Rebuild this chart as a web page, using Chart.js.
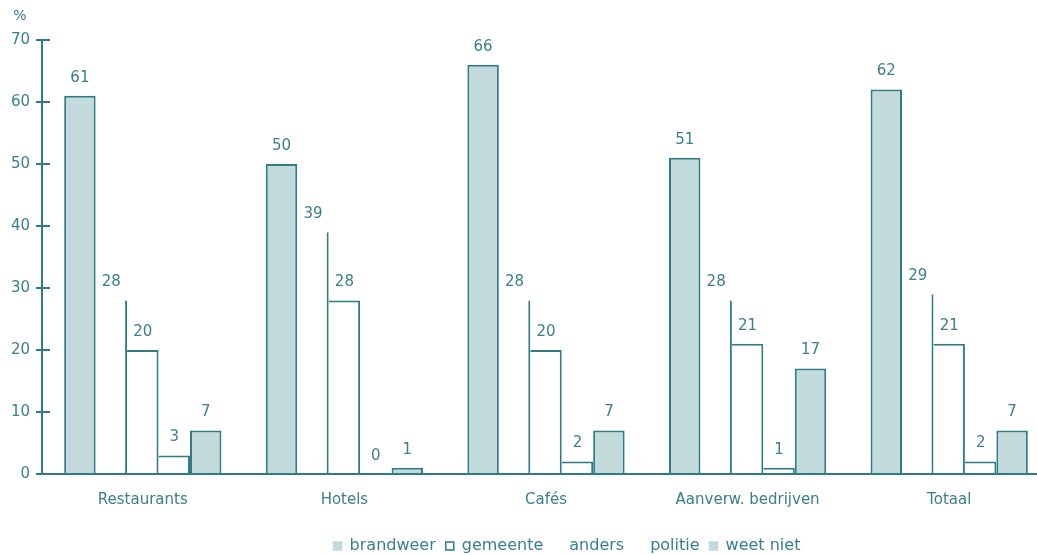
<!DOCTYPE html>
<html>
<head>
<meta charset="utf-8">
<script src="https://cdn.jsdelivr.net/npm/chart.js@4"></script>
<style>
  html, body { margin: 0; padding: 0; background: #ffffff; overflow: hidden; }
  canvas { display: block; }
</style>
</head>
<body>
<!-- the axis runs on past the right edge of the page -->
<canvas id="c" width="1050" height="555"></canvas>
<script>
// Wie wordt ingeschakeld? Percentages per branche
const categories = ['Restaurants', 'Hotels', 'Cafés', 'Aanverw. bedrijven', 'Totaal'];
const brandweer = [61, 50, 66, 51, 62];
const gemeente  = [28, 39, 28, 28, 29];
const anders    = [20, 28, 20, 21, 21];
const politie   = [3, 0, 2, 1, 2];
const weetNiet  = [7, 1, 7, 17, 7];
const yTicks    = [0, 10, 20, 30, 40, 50, 60, 70];

const TEAL = '#2f7b86';
const TEXT = '#3a7f89';
const FILL = '#c3dadd';
const FONT = "'DejaVu Sans', 'Open Sans', sans-serif";

// value labels above each bar
const valueLabels = {
  id: 'valueLabels',
  afterDatasetsDraw(chart) {
    const ctx = chart.ctx;
    ctx.save();
    ctx.fillStyle = TEXT;
    ctx.font = '15px ' + FONT;
    ctx.textAlign = 'center';
    ctx.textBaseline = 'middle';
    chart.data.datasets.forEach((ds, i) => {
      chart.getDatasetMeta(i).data.forEach((bar, j) => {
        ctx.fillText(String(ds.data[j]), bar.x, bar.y - 18);
      });
    });
    ctx.restore();
  }
};

// tick marks crossing the y axis, plus the unit above it
const axisDecor = {
  id: 'axisDecor',
  afterDraw(chart) {
    const ctx = chart.ctx;
    const y = chart.scales.y;
    const x0 = chart.chartArea.left;
    ctx.save();
    ctx.strokeStyle = TEAL;
    ctx.lineWidth = 2;
    y.ticks.forEach(t => {
      const py = y.getPixelForValue(t.value);
      ctx.beginPath();
      ctx.moveTo(x0, py);
      ctx.lineTo(x0 + 8, py);
      ctx.stroke();
    });
    ctx.fillStyle = TEXT;
    ctx.font = '14px ' + FONT;
    ctx.textAlign = 'center';
    ctx.textBaseline = 'middle';
    ctx.fillText('%', x0 - 22, chart.chartArea.top - 24);
    ctx.restore();
  }
};

// the legend row sits a little right of the page centre
const legendShift = {
  id: 'legendShift',
  afterLayout(chart) {
    const lg = chart.legend;
    if (lg) { lg.left += 40; lg.right += 40; }
  }
};

const outline = { top: 2, right: 2, left: 0, bottom: 0 };

new Chart(document.getElementById('c'), {
  type: 'bar',
  data: {
    labels: categories,
    datasets: [
      { label: 'brandweer', data: brandweer, backgroundColor: FILL, borderColor: TEAL, borderWidth: 2,
        legendFill: FILL, legendStroke: FILL },
      { label: 'gemeente', data: gemeente, backgroundColor: '#ffffff', borderColor: TEAL,
        borderWidth: { top: 0, right: 2, left: 0, bottom: 0 },
        legendFill: '#ffffff', legendStroke: TEAL },
      { label: 'anders', data: anders, backgroundColor: '#ffffff', borderColor: TEAL, borderWidth: outline,
        legendFill: '#ffffff', legendStroke: '#ffffff' },
      { label: 'politie', data: politie, backgroundColor: '#ffffff', borderColor: TEAL, borderWidth: outline,
        legendFill: '#ffffff', legendStroke: '#ffffff' },
      { label: 'weet niet', data: weetNiet, backgroundColor: FILL, borderColor: TEAL, borderWidth: 2,
        legendFill: FILL, legendStroke: FILL }
    ]
  },
  options: {
    responsive: false,
    maintainAspectRatio: false,
    animation: false,
    devicePixelRatio: 1,
    layout: { padding: { top: 40, left: 4, right: 0, bottom: -9 } },
    datasets: { bar: { categoryPercentage: 0.78, barPercentage: 1.0 } },
    scales: {
      x: {
        grid: { display: false, drawTicks: false },
        border: { display: true, color: TEAL, width: 2 },
        ticks: { color: TEXT, font: { family: FONT, size: 15 }, padding: 17, maxRotation: 0 },
        afterFit(scale) { scale.height = 54; }
      },
      y: {
        min: 0, max: 70,
        afterBuildTicks(scale) { scale.ticks = yTicks.map(v => ({ value: v })); },
        grid: { drawOnChartArea: false, color: TEAL, lineWidth: 2, tickLength: 6 },
        border: { display: true, color: TEAL, width: 2 },
        ticks: { color: TEXT, font: { family: FONT, size: 15 }, padding: 6 },
        afterFit(scale) { scale.width = 38; }
      }
    },
    plugins: {
      tooltip: { enabled: false },
      legend: {
        position: 'bottom',
        labels: {
          color: TEXT,
          font: { family: FONT, size: 16 },
          boxWidth: 8, boxHeight: 8, padding: 10,
          generateLabels(chart) {
            return chart.data.datasets.map((ds, i) => ({
              text: ds.label,
              fillStyle: ds.legendFill,
              strokeStyle: ds.legendStroke,
              lineWidth: 1.5,
              fontColor: TEXT,
              datasetIndex: i,
              hidden: false
            }));
          }
        }
      }
    }
  },
  plugins: [valueLabels, axisDecor, legendShift]
});
</script>
</body>
</html>
